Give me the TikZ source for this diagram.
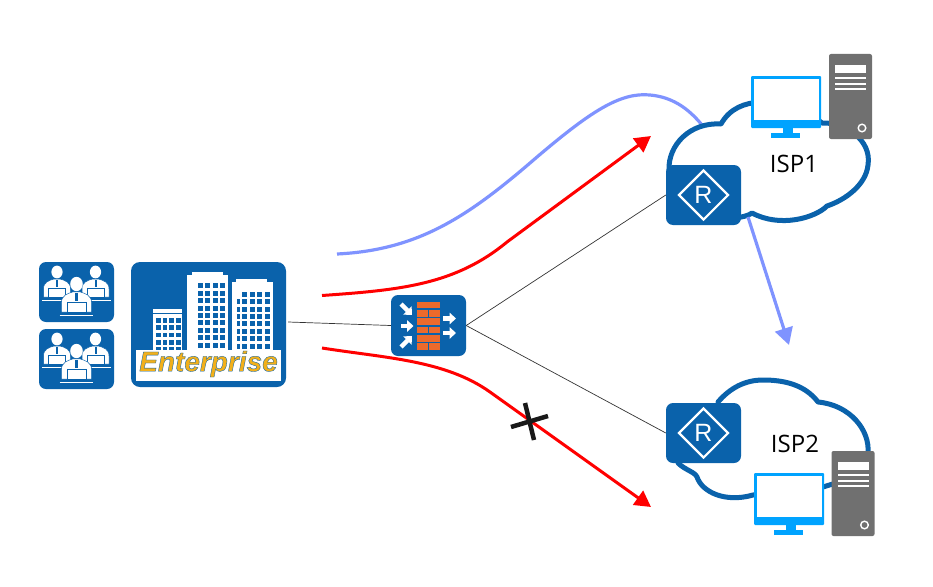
\documentclass[tikz,border=0pt]{standalone}
\usepackage{fontspec}
\setmainfont{Open Sans}
\newfontfamily\arialfont{Liberation Sans}
\usetikzlibrary{arrows.meta,shapes.geometric}

\definecolor{iconblue}{HTML}{0A62AB}
\definecolor{brickorange}{HTML}{EC6A2C}
\definecolor{screenblue}{HTML}{00A3FF}
\definecolor{servergrey}{HTML}{707070}
\definecolor{pathblue}{HTML}{7F93FF}
\definecolor{labelgold}{HTML}{F2B01A}

\tikzset{
    iconbox/.style={fill=iconblue, rounded corners=7, minimum width=75, minimum height=60, inner sep=0, text=white},
    routerdiamond/.style={diamond, draw=white, line width=2.2, minimum size=50, inner sep=0},
    linkline/.style={black!80, line width=0.7},
    failpath/.style={red, line width=3, -{Triangle[length=16,width=17]}},
    bluepath/.style={pathblue, line width=3.2},
    cloudline/.style={iconblue, line width=5, line join=round, line cap=round},
    brick/.style={fill=brickorange},
    whitearrow/.style={white, line width=4.5, -{Triangle[length=6.5,width=11.5]}},
    person/.pic={
        \fill[white] (0,0) ellipse (5.6 and 6.4);
        \filldraw[white, draw=iconblue, line width=0.5] (-13.5,25) -- (-13.5,17) .. controls (-13.5,10) and (-8,8.5) .. (-3,7) -- (3,7) .. controls (8,8.5) and (13.5,10) .. (13.5,17) -- (13.5,25) -- cycle;
        \fill[iconblue] (-1,8) rectangle (1,15);
        \filldraw[white, draw=iconblue, line width=0.5] (-8.5,16) rectangle (8.5,25);
        \draw[white, line width=0.8] (-15,28) -- (15,28);
    },
    staffgroup/.pic={
        \pic at (-19.5,-20) {person};
        \pic at (19,-20) {person};
        \pic[scale=1.12] at (0,-8) {person};
    },
    monitor/.pic={
        \fill[screenblue, rounded corners=1] (0,0) rectangle (70,52);
        \fill[white] (2.5,2.5) rectangle (67.5,44);
        \fill[screenblue] (32,52) rectangle (42,58);
        \fill[screenblue] (20,57) rectangle (49,62);
    },
    server/.pic={
        \fill[servergrey, rounded corners=2] (0,0) rectangle (43,85);
        \fill[white] (6,11) rectangle (37,19);
        \foreach \liney in {24.3,29.7,35.3}
            \fill[white] (6,\liney-1) rectangle (37,\liney+1);
        \draw[white, line width=1.4] (33,74) circle (3.8);
    },
}

\begin{document}
\begin{tikzpicture}[x=1pt, y=-1pt]

    \useasboundingbox (0,0) rectangle (933,586);

    % paths under the clouds
    \coordinate (blueStart) at (337,254);
    \coordinate (blueEnd) at (702,125);
    \coordinate (redUpStart) at (322,295.5);
    \coordinate (redUpEnd) at (651,136);
    \coordinate (redDownStart) at (322,348);
    \coordinate (redDownEnd) at (651,507);
    \coordinate (spillEnd) at (789,345);

    \draw[bluepath] (blueStart) .. controls (420,250) and (470,215) .. (537,157) .. controls (590,112) and (620,92) .. (650,95) .. controls (672,97) and (688,108) .. (blueEnd);

    % ISP1
    \draw[cloudline] (669,170) .. controls (668,145) and (690,122) .. (721,124) .. controls (730,108) and (745,103) .. (760,102) .. controls (780,95) and (805,110) .. (822,123) .. controls (845,122) and (872,140) .. (868,165) .. controls (866,185) and (845,200) .. (827,206) .. controls (815,218) and (780,228) .. (752,213) .. controls (748,216) and (742,217) .. (735,218);

    \pic at (751,76) {monitor};
    \pic at (829,54) {server};

    \node (isp1label) at (794,164) {\fontsize{24}{26}\selectfont ISP1};

    % ISP2
    \draw[cloudline] (678,463) .. controls (685,470) and (695,472) .. (697,477) .. controls (702,492) and (725,503) .. (753,495) -- (823,487) .. controls (845,480) and (870,475) .. (868,453) .. controls (870,430) and (850,405) .. (818,402) .. controls (805,385) and (785,380) .. (763,380) .. controls (745,380) and (730,388) .. (718,402);

    \pic at (754,473) {monitor};
    \pic at (831.5,451) {server};

    \node (isp2label) at (795,444) {\fontsize{24}{26}\selectfont ISP2};

    % blue path leaving ISP1
    \coordinate (spillStart) at (748,217);
    \draw[bluepath, -{Triangle[length=17,width=18]}] (spillStart) -- (spillEnd);

    % routers
    \node[iconbox] (routerA) at (703.5,195) {};
    \node[routerdiamond] (diamondA) at (routerA) {};
    \node[text=white] (letterA) at (routerA) {\arialfont\fontsize{25}{27}\selectfont R};

    \node[iconbox] (routerB) at (703.5,433) {};
    \node[routerdiamond] (diamondB) at (routerB) {};
    \node[text=white] (letterB) at (routerB) {\arialfont\fontsize{25}{27}\selectfont R};

    % staff
    \node[iconbox] (staffA) at (76.5,292) {};
    \pic at (staffA) {staffgroup};

    \node[iconbox] (staffB) at (76.5,359) {};
    \pic at (staffB) {staffgroup};

    % enterprise
    \node[iconbox, minimum width=155, minimum height=125, rounded corners=9] (enterprise) at (208.5,324.5) {};

    \fill[white] (153,309) rectangle (182,350);
    \fill[white] (187,275) rectangle (228,350);
    \fill[white] (192,272) rectangle (223,276);
    \fill[white] (232,282) rectangle (273,350);
    \fill[white] (236,279) rectangle (267,283);

    \fill[iconblue] (153,313) rectangle (182,314);
    \foreach \winx in {156,162.7,169.3,176}
        \foreach \winy in {318,325.3,332.6,339.9,347.2}
            \fill[iconblue] (\winx,\winy) rectangle (\winx+4.6,\winy+4.6);
    \foreach \winx in {197.7,205.2,212.7,220.2}
        \foreach \winy in {283.3,290.7,298.1,305.5,312.9,320.3,327.7,335.1,342.5}
            \fill[iconblue] (\winx,\winy) rectangle (\winx+5,\winy+5);
    \foreach \winx in {242,249.5,257,264.5}
        \foreach \winy in {291.7,299.1,306.5,313.9,321.3,328.7,336.1,343.5}
            \fill[iconblue] (\winx,\winy) rectangle (\winx+5,\winy+5);
    \foreach \winy in {299.1,306.5,313.9,321.3,328.7,336.1,343.5}
        \fill[iconblue] (237,\winy) rectangle (239.5,\winy+5);

    \node[fill=white, minimum width=145, minimum height=31, inner sep=0] (labelband) at (208.5,365.5) {};
    \node[text=labelgold] (enterpriselabel) at (208.5,364) {\arialfont\bfseries\itshape\fontsize{28}{30}\selectfont\special{pdf:code 2 Tr 0.35 w 0.04 0.38 0.67 RG}Enterprise\special{pdf:code 0 Tr}};

    % firewall
    \node[iconbox, minimum height=61] (firewall) at (428.5,325.5) {};

    \foreach \bricky in {301.7,318.3,335}
        \fill[brick] (417,\bricky) rectangle (440,\bricky+6.5);
    \foreach \bricky in {310,326.7,343.3}
    {
        \fill[brick] (417,\bricky) rectangle (427.7,\bricky+6.5);
        \fill[brick] (429.3,\bricky) rectangle (440,\bricky+6.5);
    }

    \coordinate (inTopA) at (401,304);
    \coordinate (inTopB) at (412,315);
    \coordinate (inMidA) at (401,326);
    \coordinate (inMidB) at (413.5,326);
    \coordinate (inLowA) at (401,347);
    \coordinate (inLowB) at (412,336);
    \coordinate (outTopA) at (443,318.5);
    \coordinate (outTopB) at (456,318.5);
    \coordinate (outLowA) at (443,333);
    \coordinate (outLowB) at (456,333);

    \draw[whitearrow] (inTopA) -- (inTopB);
    \draw[whitearrow] (inMidA) -- (inMidB);
    \draw[whitearrow] (inLowA) -- (inLowB);
    \draw[whitearrow] (outTopA) -- (outTopB);
    \draw[whitearrow] (outLowA) -- (outLowB);

    % links
    \draw[linkline] ([xshift=2,yshift=2.5]enterprise.east) -- (firewall.west);
    \draw[linkline] (firewall.east) -- (routerA.west);
    \draw[linkline] (firewall.east) -- (routerB.west);

    % traffic
    \draw[failpath] (redUpStart) .. controls (400,290) and (455,285) .. (507,242) -- (redUpEnd);
    \draw[failpath] (redDownStart) .. controls (385,358) and (445,360) .. (490,392) -- (redDownEnd);

    \coordinate (crossA) at (511,427);
    \coordinate (crossB) at (548,416);
    \coordinate (crossC) at (525,403);
    \coordinate (crossD) at (534,440);
    \draw[black!90, line width=4.5] (crossA) -- (crossB);
    \draw[black!90, line width=4.5] (crossC) -- (crossD);

\end{tikzpicture}
\end{document}
